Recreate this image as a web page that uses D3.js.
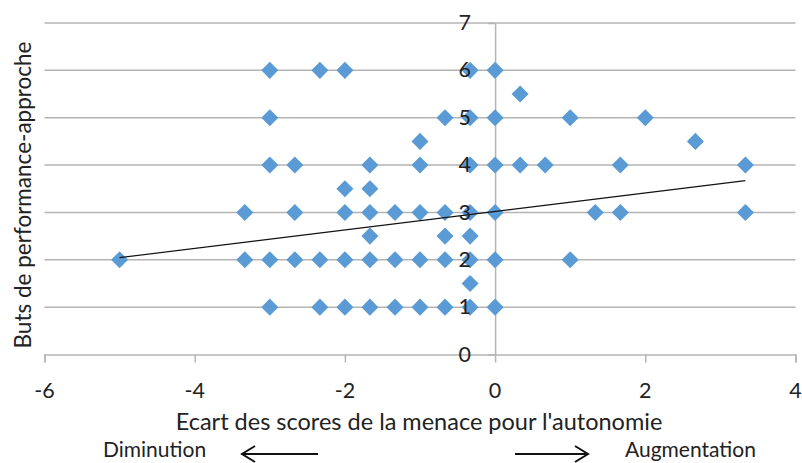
<!DOCTYPE html>
<html><head><meta charset="utf-8">
<script src="https://cdn.jsdelivr.net/npm/d3@7"></script>
<style>body{margin:0;background:#fff}svg{display:block}text{font-family:Lato,"Open Sans",sans-serif;fill:#222}</style>
</head><body><svg id="c" width="802" height="463"></svg>
<script>
// data: x in thirds of a unit, y in half units
const pointsX = [
 -3,-2.333,-2,-0.333,0,
 0.333,
 -3,-0.667,-0.333,0,1,2,
 -1,2.667,
 -3,-2.667,-1.667,-1,-0.333,0,0.333,0.667,1.667,3.333,
 -2,-1.667,
 -3.333,-2.667,-2,-1.667,-1.333,-1,-0.667,-0.333,0,1.333,1.667,3.333,
 -1.667,-0.667,-0.333,
 -5,-3.333,-3,-2.667,-2.333,-2,-1.667,-1.333,-1,-0.667,-0.333,0,1,
 -0.333,
 -3,-2.333,-2,-1.667,-1.333,-1,-0.667,-0.333,0
];
const pointsY = [
 6,6,6,6,6,
 5.5,
 5,5,5,5,5,5,
 4.5,4.5,
 4,4,4,4,4,4,4,4,4,4,
 3.5,3.5,
 3,3,3,3,3,3,3,3,3,3,3,3,
 2.5,2.5,2.5,
 2,2,2,2,2,2,2,2,2,2,2,2,2,
 1.5,
 1,1,1,1,1,1,1,1,1
];
const xTicks = [-6,-4,-2,0,2,4];
const yTicks = [0,1,2,3,4,5,6,7];
const trendRange = [-5, 3.333];
const trendIntercept = 3.02, trendSlope = 0.195;
const xTitle = "Ecart des scores de la menace pour l'autonomie";
const yTitle = "Buts de performance-approche";
const leftLabel = "Diminution", rightLabel = "Augmentation";

const svg = d3.select("#c");
const x = d3.scaleLinear().domain([-6,4]).range([44.5,795.5]);
const y = d3.scaleLinear().domain([0,7]).range([354.5,23]);
const grid = "#b4b4b4";

// gridlines
svg.append("g").selectAll("line").data(yTicks.slice(1)).join("line")
  .attr("x1",x(-6)).attr("x2",x(4)).attr("y1",d=>y(d)).attr("y2",d=>y(d))
  .attr("stroke",grid).attr("stroke-width",1.5);

// x axis at y=0
const xa = svg.append("g").attr("transform",`translate(0,${y(0)})`)
  .call(d3.axisBottom(x).tickValues(xTicks).tickSize(8).tickFormat(""));
xa.select(".domain").attr("stroke",grid).attr("stroke-width",1.5);
xa.selectAll(".tick line").attr("stroke",grid).attr("stroke-width",1.5);

// y axis at x=0
const ya = svg.append("g").attr("transform",`translate(${x(0)},0)`)
  .call(d3.axisLeft(y).tickValues(yTicks).tickSize(7).tickSizeOuter(0).tickFormat(""));
ya.select(".domain").attr("stroke",grid).attr("stroke-width",1.5);
ya.selectAll(".tick line").attr("stroke",grid).attr("stroke-width",1.5);

// points
const pts = pointsX.map((v,i)=>({x:v,y:pointsY[i]}));
const diamond = d3.symbol().type(d3.symbolDiamond2).size(185);
svg.append("g").selectAll("path").data(pts).join("path")
  .attr("d",diamond).attr("transform",d=>`translate(${x(d.x)},${y(d.y)})`)
  .attr("fill","#5b9bd5");

// trendline
svg.append("line")
  .attr("x1",x(trendRange[0])).attr("y1",y(trendIntercept+trendSlope*trendRange[0]))
  .attr("x2",x(trendRange[1])).attr("y2",y(trendIntercept+trendSlope*trendRange[1]))
  .attr("stroke","#111").attr("stroke-width",1.2);

// y tick labels
svg.append("g").selectAll("text").data(yTicks).join("text")
  .attr("x",x(0)-24).attr("y",d=>y(d)).attr("dy","0.33em")
  .attr("text-anchor","end").attr("font-size",21.5).text(d=>d);

// x tick labels
svg.append("g").selectAll("text").data(xTicks).join("text")
  .attr("x",d=>x(d)).attr("y",398).attr("text-anchor","middle")
  .attr("font-size",21.5).text(d=>d<0?"-"+Math.abs(d):d);

// titles
svg.append("text").attr("x",419).attr("y",430).attr("text-anchor","middle")
  .attr("font-size",23.5).text(xTitle);
svg.append("text").attr("transform","translate(31,195) rotate(-90)")
  .attr("text-anchor","middle").attr("font-size",22.5).text(yTitle);

svg.append("text").attr("x",103).attr("y",457).attr("font-size",21).text(leftLabel);
svg.append("text").attr("x",625).attr("y",457).attr("font-size",21).text(rightLabel);

// arrows
const arr = (x1,x2,yy)=>{
  const dir = Math.sign(x2-x1);
  svg.append("line").attr("x1",x1).attr("x2",x2).attr("y1",yy).attr("y2",yy)
    .attr("stroke","#111").attr("stroke-width",2);
  svg.append("path").attr("d",`M${x2-dir*13},${yy-8}L${x2},${yy}L${x2-dir*13},${yy+8}`)
    .attr("fill","none").attr("stroke","#111").attr("stroke-width",2);
};
arr(318,242,454);
arr(515,588,454);
</script></body></html>
